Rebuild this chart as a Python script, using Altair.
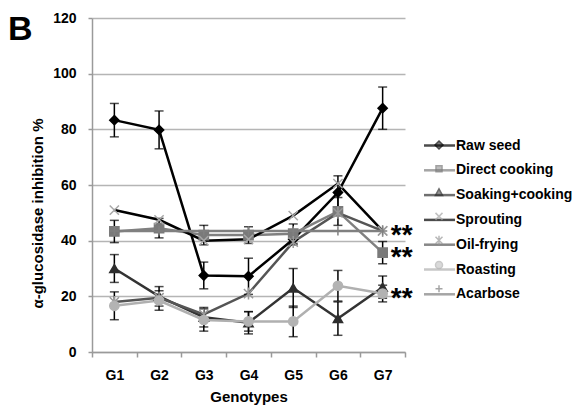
import altair as alt
import pandas as pd

genotypes = ["G1", "G2", "G3", "G4", "G5", "G6", "G7"]
series_names = ["Raw seed", "Direct cooking", "Soaking+cooking", "Sprouting",
                "Oil-frying", "Roasting", "Acarbose"]

raw_seed = [83.3, 79.8, 27.5, 27.2, 40.5, 57.3, 87.6]
raw_seed_err = [6.0, 6.8, 4.8, 6.5, 2.0, 6.0, 7.6]
direct_cooking = [43.3, 44.5, 42.0, 42.0, 42.5, 50.5, 35.7]
direct_cooking_err = [4.0, 3.5, 3.5, 3.0, 3.5, 5.0, 4.0]
soaking_cooking = [30.0, 20.0, 12.5, 10.5, 23.0, 12.0, 23.3]
soaking_cooking_err = [5.0, 3.5, 3.5, 4.0, 7.0, 6.0, 4.0]
sprouting = [51.0, 47.5, 40.0, 40.5, 49.0, 60.5, 43.5]
oil_frying = [18.0, 19.5, 13.5, 21.0, 39.5, 50.0, 43.5]
roasting = [16.6, 18.5, 11.5, 11.0, 11.0, 23.8, 21.0]
roasting_err = [5.0, 3.5, 4.0, 3.5, 5.5, 5.5, 3.0]
acarbose = [43.5, 43.5, 43.5, 43.5, 43.5, 43.5, 43.5]

star_values = [43.5, 35.5, 21.0]
star_genotype = "G7"

line_colors = ["#000000", "#808080", "#333333", "#000000", "#555555", "#b0b0b0", "#808080"]
marker_colors = ["#000000", "#7a7a7a", "#2e2e2e", "#a8a8a8", "#9a9a9a", "#b3b3b3", "#808080"]
marker_shapes = ["M0,-1L1,0L0,1L-1,0Z", "square", "triangle-up",
                 "M-1,-1L1,1M-1,1L1,-1", "M-1,-1L1,1M-1,1L1,-1M0,-1.3L0,1.3",
                 "circle", "M-1,0L1,0M0,-1L0,1"]
legend_marker_shapes = ["M0,-0.4L0.4,0L0,0.4L-0.4,0Z", "M-0.3,-0.3H0.3V0.3H-0.3Z",
                        "M0,-0.38L0.36,0.3H-0.36Z", "M-0.35,-0.35L0.35,0.35M-0.35,0.35L0.35,-0.35",
                        "M-0.35,-0.35L0.35,0.35M-0.35,0.35L0.35,-0.35M0,-0.45L0,0.45",
                        "M-0.35,0A0.35,0.35,0,1,0,0.35,0A0.35,0.35,0,1,0,-0.35,0Z",
                        "M-0.35,0L0.35,0M0,-0.35L0,0.35"]

values = [raw_seed, direct_cooking, soaking_cooking, sprouting, oil_frying, roasting, acarbose]
errors = [raw_seed_err, direct_cooking_err, soaking_cooking_err, None, None, roasting_err, None]

rows = []
for name, vals, errs in zip(series_names, values, errors):
    for i, g in enumerate(genotypes):
        e = errs[i] if errs is not None else None
        rows.append({"series": name, "genotype": g, "value": vals[i],
                     "lo": vals[i] - e if e is not None else None,
                     "hi": vals[i] + e if e is not None else None,
                     "series_l": name, "series_m": name})
df = pd.DataFrame(rows)
err_df = df.dropna(subset=["lo"])
stars_df = pd.DataFrame({"genotype": [star_genotype] * len(star_values), "value": star_values,
                         "label": ["**"] * len(star_values)})

FONT = "Liberation Sans"

x_enc = alt.X("genotype:N", sort=genotypes,
              scale=alt.Scale(type="band", paddingInner=0, paddingOuter=0, domain=genotypes),
              axis=alt.Axis(title="Genotypes", labelAngle=0, tickBand="extent", tickSize=5,
                            labelPadding=11, titlePadding=7, titleFontSize=15))
y_scale = alt.Scale(domain=[0, 120], nice=False, zero=True)
y_enc = alt.Y("value:Q", scale=y_scale,
              axis=alt.Axis(title="α-glucosidase inhibition %", values=[0, 20, 40, 60, 80, 100, 120],
                            grid=True, tickSize=4, labelPadding=12, titleFontSize=15,
                            titleY=195, titleX=-55, titleAngle=270,
                            titleAlign="center", titleBaseline="middle"))

base = alt.Chart(df)

lines = base.mark_line(strokeWidth=2.5).encode(
    x=x_enc, y=y_enc,
    color=alt.Color("series:N", scale=alt.Scale(domain=series_names, range=line_colors), legend=None),
    detail="series:N",
)

err_rules = alt.Chart(err_df).mark_rule(color="#000000", strokeWidth=1.5).encode(
    x=alt.X("genotype:N", sort=genotypes), y=alt.Y("lo:Q", scale=y_scale), y2="hi:Q")
err_lo = alt.Chart(err_df).mark_tick(color="#000000", thickness=1.5, size=9).encode(
    x=alt.X("genotype:N", sort=genotypes), y=alt.Y("lo:Q", scale=y_scale))
err_hi = alt.Chart(err_df).mark_tick(color="#000000", thickness=1.5, size=9).encode(
    x=alt.X("genotype:N", sort=genotypes), y=alt.Y("hi:Q", scale=y_scale))

points = base.mark_point(filled=True, strokeWidth=1.5, opacity=1, size=85).encode(
    x=alt.X("genotype:N", sort=genotypes), y=alt.Y("value:Q", scale=y_scale),
    shape=alt.Shape("series:N", scale=alt.Scale(domain=series_names, range=marker_shapes), legend=None),
    fill=alt.Fill("series:N", scale=alt.Scale(domain=series_names, range=marker_colors), legend=None),
    stroke=alt.Stroke("series:N", scale=alt.Scale(domain=series_names, range=marker_colors), legend=None),
)

stars = alt.Chart(stars_df).mark_text(text="**", font=FONT, fontSize=28, fontWeight="bold",
                                      color="#000000", dx=19, dy=5, align="center",
                                      baseline="middle").encode(
    x=alt.X("genotype:N", sort=genotypes), y=alt.Y("value:Q", scale=y_scale))

leg_common = dict(orient="none", legendX=336, legendY=116, title=None, symbolSize=400,
                  rowPadding=5.8, labelFont=FONT, labelFontSize=14, labelFontWeight="bold",
                  labelColor="#000000", labelOffset=5, symbolStrokeWidth=2.5, padding=0,
                  labelLimit=200)

legend_lines = base.transform_filter("false").mark_point(filled=False, strokeWidth=2.5).encode(
    x=alt.X("genotype:N", sort=genotypes), y=alt.Y("value:Q", scale=y_scale),
    shape=alt.Shape("series_l:N", scale=alt.Scale(domain=series_names,
                    range=["M-1.55,0H1.55"] * 7), legend=alt.Legend(**leg_common)),
    stroke=alt.Stroke("series_l:N", scale=alt.Scale(domain=series_names, range=line_colors),
                      legend=alt.Legend(**leg_common)),
)

leg_m = dict(leg_common)
leg_m.update(labelExpr="''", symbolStrokeWidth=1.5)
legend_markers = base.transform_filter("false").mark_point(filled=True, strokeWidth=1.5).encode(
    x=alt.X("genotype:N", sort=genotypes), y=alt.Y("value:Q", scale=y_scale),
    shape=alt.Shape("series_m:N", scale=alt.Scale(domain=series_names, range=legend_marker_shapes),
                    legend=alt.Legend(**leg_m)),
    fill=alt.Fill("series_m:N", scale=alt.Scale(domain=series_names, range=marker_colors),
                  legend=alt.Legend(**leg_m)),
    stroke=alt.Stroke("series_m:N", scale=alt.Scale(domain=series_names, range=marker_colors),
                      legend=alt.Legend(**leg_m)),
)

chart = alt.layer(lines, err_rules, err_lo, err_hi, points, stars, legend_lines, legend_markers).resolve_scale(
    color="independent", shape="independent", fill="independent", stroke="independent"
).resolve_legend(
    color="independent", shape="independent", fill="independent", stroke="independent"
).properties(
    width=313, height=334,
    autosize=alt.AutoSizeParams(type="none"),
    padding={"left": 84, "top": 10, "right": 171, "bottom": 54},
    title=alt.TitleParams("B", anchor="start", frame="group", font=FONT, fontSize=34,
                          fontWeight="bold", color="#000000", dx=-84, dy=41, offset=-22,
                          baseline="alphabetic"),
).configure_view(stroke=None).configure_axis(
    labelFont=FONT, labelFontSize=14, labelFontWeight="bold", labelColor="#000000",
    titleFont=FONT, titleFontSize=14, titleFontWeight="bold", titleColor="#000000",
    domainColor="#9a9a9a", domainWidth=1.5, tickColor="#9a9a9a", tickWidth=1.5,
    gridColor="#b5b5b5", gridWidth=1.5,
)

chart.save("out.html", embed_options={"renderer": "svg", "actions": False})
